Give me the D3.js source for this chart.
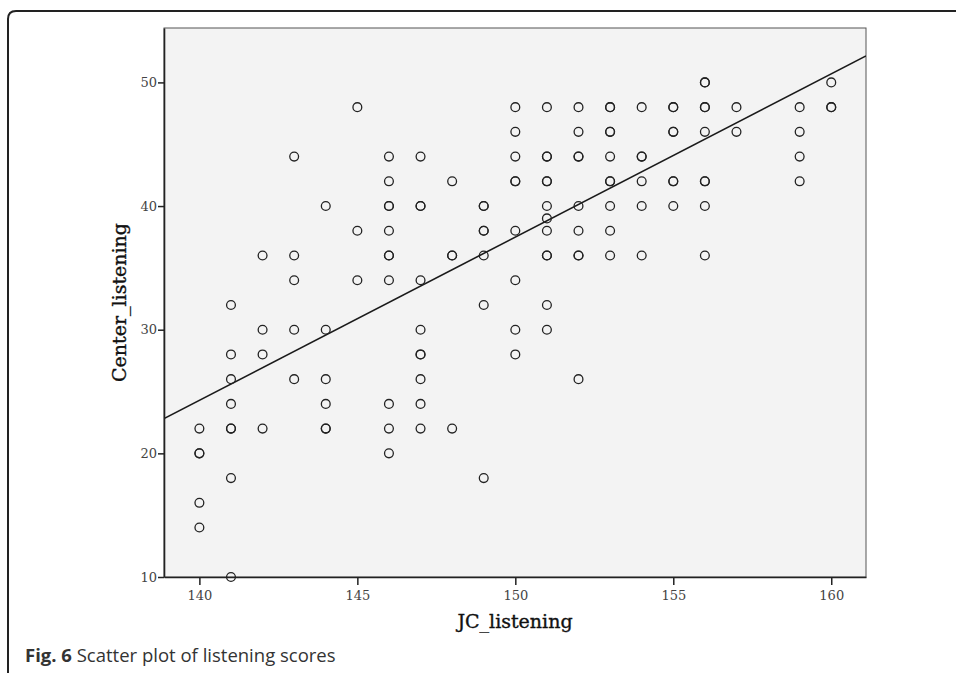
<!DOCTYPE html>
<html>
<head>
<meta charset="utf-8">
<script src="https://cdn.jsdelivr.net/npm/d3@7"></script>
<style>
  html, body { margin: 0; padding: 0; background: #fff; }
  svg { display: block; }
</style>
</head>
<body>
<div id="chart"></div>
<script>
// JC_listening score for each student (x) and Center_listening score (y)
const jcListening = [
  140, 140, 140, 140, 140,
  141, 141, 141, 141, 141, 141, 141, 141,
  142, 142, 142, 142,
  143, 143, 143, 143, 143,
  144, 144, 144, 144, 144, 144,
  145, 145, 145,
  146, 146, 146, 146, 146, 146, 146, 146, 146, 146, 146,
  147, 147, 147, 147, 147, 147, 147, 147, 147, 147,
  148, 148, 148, 148,
  149, 149, 149, 149, 149, 149, 149,
  150, 150, 150, 150, 150, 150, 150, 150, 150,
  151, 151, 151, 151, 151, 151, 151, 151, 151, 151, 151, 151,
  152, 152, 152, 152, 152, 152, 152, 152, 152,
  153, 153, 153, 153, 153, 153, 153, 153, 153, 153,
  154, 154, 154, 154, 154, 154,
  155, 155, 155, 155, 155, 155, 155,
  156, 156, 156, 156, 156, 156, 156, 156, 156,
  157, 157,
  159, 159, 159, 159,
  160, 160, 160
]
const centerListening = [
  22, 20, 20, 16, 14,
  32, 28, 26, 24, 22, 22, 18, 10,
  36, 30, 28, 22,
  44, 36, 34, 30, 26,
  40, 30, 26, 24, 22, 22,
  48, 38, 34,
  44, 42, 40, 40, 38, 36, 36, 34, 24, 22, 20,
  44, 40, 40, 34, 30, 28, 28, 26, 24, 22,
  42, 36, 36, 22,
  40, 40, 38, 38, 36, 32, 18,
  48, 46, 44, 42, 42, 38, 34, 30, 28,
  48, 44, 44, 42, 42, 40, 39, 38, 36, 36, 32, 30,
  48, 46, 44, 44, 40, 38, 36, 36, 26,
  48, 48, 46, 46, 44, 42, 42, 40, 38, 36,
  48, 44, 44, 42, 40, 36,
  48, 48, 46, 46, 42, 42, 40,
  50, 50, 48, 48, 46, 42, 42, 40, 36,
  48, 46,
  48, 46, 44, 42,
  50, 48, 48
]
const xTicks = [140, 145, 150, 155, 160]
const yTicks = [10, 20, 30, 40, 50]
// fit line
const fitSlope = 1.32
const fitIntercept = -160.51

const width = 956
const height = 673
const plot = { left: 164, top: 28, right: 866, bottom: 577 }

const svg = d3.select("#chart")
  .append("svg")
  .attr("width", width)
  .attr("height", height)

// outer panel border (only top and left are visible)
svg.append("path")
  .attr("d", "M8,673 L8,19 Q8,11 16,11 L956,11")
  .attr("fill", "none")
  .attr("stroke", "#222")
  .attr("stroke-width", 2)

const x = d3.scaleLinear().domain([138.88, 161.1]).range([plot.left, plot.right])
const y = d3.scaleLinear().domain([10, 54.4]).range([plot.bottom, plot.top])

svg.append("rect")
  .attr("x", plot.left)
  .attr("y", plot.top)
  .attr("width", plot.right - plot.left)
  .attr("height", plot.bottom - plot.top)
  .attr("fill", "#f3f3f3")
  .attr("stroke", "#555")
  .attr("stroke-width", 1)

svg.append("clipPath").attr("id", "plotclip")
  .append("rect")
  .attr("x", plot.left)
  .attr("y", plot.top)
  .attr("width", plot.right - plot.left)
  .attr("height", plot.bottom - plot.top)

// fit line
svg.append("line")
  .attr("clip-path", "url(#plotclip)")
  .attr("x1", x(138.88))
  .attr("y1", y(fitSlope * 138.88 + fitIntercept))
  .attr("x2", x(161.1))
  .attr("y2", y(fitSlope * 161.1 + fitIntercept))
  .attr("stroke", "#1a1a1a")
  .attr("stroke-width", 1.6)

// points
svg.append("g")
  .selectAll("circle")
  .data(d3.range(jcListening.length))
  .enter()
    .append("circle")
    .attr("cx", i => x(jcListening[i]))
    .attr("cy", i => y(centerListening[i]))
    .attr("r", 4.4)
    .attr("fill", "none")
    .attr("stroke", "#222")
    .attr("stroke-width", 1.3)

const serif = "'DejaVu Serif', 'Liberation Serif', serif"

const xAxis = svg.append("g")
  .attr("transform", `translate(0,${plot.bottom})`)
  .call(d3.axisBottom(x).tickValues(xTicks).tickSize(8).tickSizeOuter(0))
xAxis.select(".domain").attr("stroke", "#222").attr("stroke-width", 1.6)
xAxis.selectAll(".tick line").attr("stroke", "#222").attr("stroke-width", 1.5)
xAxis.selectAll("text")
  .attr("font-family", serif)
  .attr("font-size", 13)
  .attr("fill", "#444")
  .attr("dy", "0.9em")

const yAxis = svg.append("g")
  .attr("transform", `translate(${plot.left},0)`)
  .call(d3.axisLeft(y).tickValues(yTicks).tickSize(6).tickSizeOuter(0))
yAxis.select(".domain").attr("stroke", "#222").attr("stroke-width", 1.6)
yAxis.selectAll(".tick line").attr("stroke", "#222").attr("stroke-width", 1.5)
yAxis.selectAll("text")
  .attr("font-family", serif)
  .attr("font-size", 13)
  .attr("fill", "#444")
  .attr("x", -7)

svg.append("text")
  .attr("x", (plot.left + plot.right) / 2)
  .attr("y", 628)
  .attr("text-anchor", "middle")
  .attr("font-family", serif)
  .attr("font-size", 19)
  .attr("fill", "#111")
  .attr("stroke", "#111")
  .attr("stroke-width", 0.35)
  .text("JC_listening")

svg.append("text")
  .attr("transform", `translate(126,${(plot.top + plot.bottom) / 2}) rotate(-90)`)
  .attr("text-anchor", "middle")
  .attr("font-family", serif)
  .attr("font-size", 19)
  .attr("fill", "#111")
  .attr("stroke", "#111")
  .attr("stroke-width", 0.35)
  .text("Center_listening")

const caption = svg.append("text")
  .attr("x", 25)
  .attr("y", 662)
  .attr("font-family", "'Open Sans', sans-serif")
  .attr("font-size", 18.5)
  .attr("fill", "#333")
caption.append("tspan").attr("font-weight", "bold").text("Fig. 6")
caption.append("tspan").text(" Scatter plot of listening scores")
</script>
</body>
</html>
